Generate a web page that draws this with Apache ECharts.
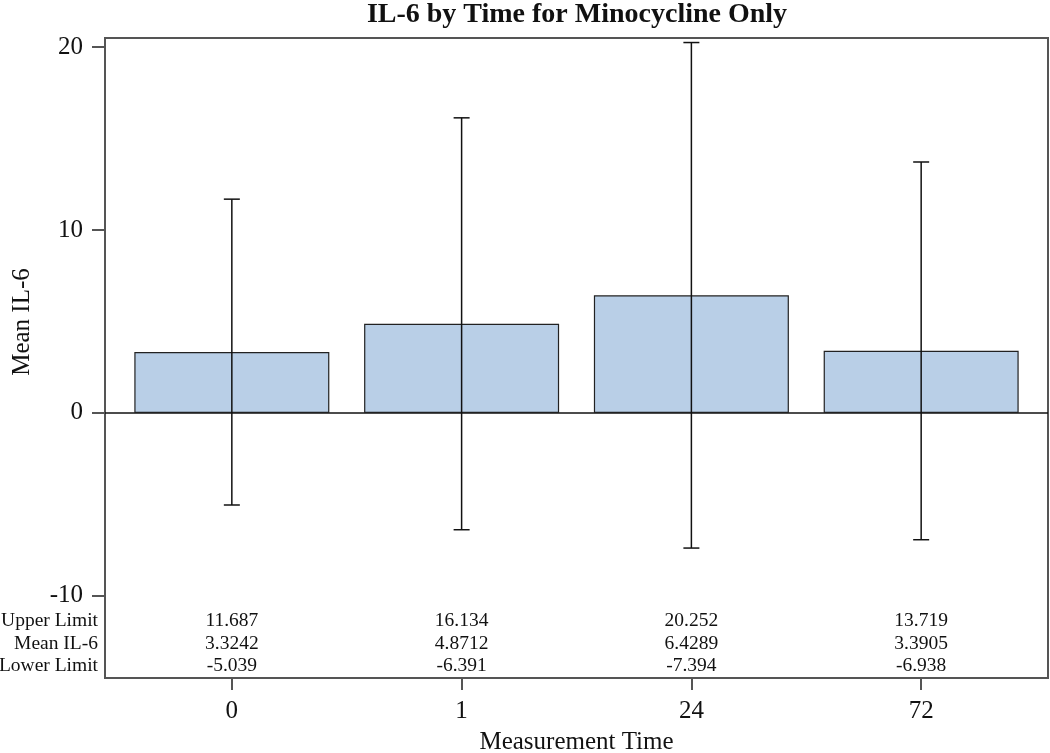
<!DOCTYPE html>
<html>
<head>
<meta charset="utf-8">
<script src="https://cdn.jsdelivr.net/npm/echarts@6/dist/echarts.min.js"></script>
<style>html,body{margin:0;padding:0;background:#fff;}#c{width:1050px;height:753px;}</style>
</head>
<body>
<div id="c"></div>
<script>
const categories = ['0', '1', '24', '72'];
const meanValues = [3.3242, 4.8712, 6.4289, 3.3905];
const upperLimits = [11.687, 16.134, 20.252, 13.719];
const lowerLimits = [-5.039, -6.391, -7.394, -6.938];
const yTicks = [-10, 0, 10, 20];
const tableRowLabels = ['Upper Limit', 'Mean IL-6', 'Lower Limit'];

const FONT = '"Liberation Serif", "Times New Roman", serif';
const X_MIN = -0.552, X_MAX = 3.552;
const ROW_Y = [-11.35, -12.62, -13.83];

const chart = echarts.init(document.getElementById('c'));
const idx = categories.map((c, i) => i);

chart.setOption({
  animation: false,
  backgroundColor: '#fff',
  grid: { left: 105, right: 2, top: 38, bottom: 75, outerBoundsMode: 'none', containLabel: false, show: true, borderColor: '#555', borderWidth: 2, backgroundColor: 'transparent' },
  graphic: [
    { type: 'text', x: 577, y: 15, style: { text: 'IL-6 by Time for Minocycline Only', font: 'bold 28px ' + FONT, fill: '#111', align: 'center', verticalAlign: 'middle' } },
    { type: 'text', x: 22, y: 322, rotation: Math.PI / 2, style: { text: 'Mean IL-6', font: '25px ' + FONT, fill: '#111', align: 'center', verticalAlign: 'middle' } }
  ],
  xAxis: {
    type: 'value', min: X_MIN, max: X_MAX,
    name: 'Measurement Time', nameLocation: 'middle', nameGap: 52,
    nameTextStyle: { fontFamily: FONT, fontSize: 25, color: '#111' },
    axisLine: { show: true, onZero: false, lineStyle: { color: '#555', width: 2 } },
    axisTick: { show: true, length: 12, customValues: idx, lineStyle: { color: '#555', width: 2 } },
    axisLabel: { customValues: idx, formatter: v => categories[Math.round(v)], fontFamily: FONT, fontSize: 25, color: '#111', margin: 21 },
    splitLine: { show: false }
  },
  yAxis: {
    type: 'value', min: -14.5, max: 20.5,
    axisLine: { show: true, onZero: false, lineStyle: { color: '#555', width: 2 } },
    axisTick: { show: true, length: 13, customValues: yTicks, lineStyle: { color: '#555', width: 2 } },
    axisLabel: { customValues: yTicks, fontFamily: FONT, fontSize: 25, color: '#111', margin: 22 },
    splitLine: { show: false }
  },
  series: [
    {
      type: 'bar',
      data: idx.map(i => [i, meanValues[i]]),
      barWidth: 195,
      itemStyle: { color: '#b9cfe7', borderColor: '#222', borderWidth: 1.2 },
      markLine: {
        silent: true, symbol: 'none', label: { show: false },
        lineStyle: { color: '#111', width: 1.5, type: 'solid' },
        data: [{ yAxis: 0 }]
      },
      z: 2
    },
    {
      type: 'custom',
      data: idx.map(i => [i, lowerLimits[i], upperLimits[i]]),
      renderItem: function (params, api) {
        const lo = api.coord([api.value(0), api.value(1)]);
        const hi = api.coord([api.value(0), api.value(2)]);
        const w = 8;
        const st = { stroke: '#111', lineWidth: 1.5 };
        return { type: 'group', children: [
          { type: 'line', shape: { x1: hi[0], y1: hi[1], x2: lo[0], y2: lo[1] }, style: st },
          { type: 'line', shape: { x1: hi[0] - w, y1: hi[1], x2: hi[0] + w, y2: hi[1] }, style: st },
          { type: 'line', shape: { x1: lo[0] - w, y1: lo[1], x2: lo[0] + w, y2: lo[1] }, style: st }
        ] };
      },
      z: 5
    },
    {
      type: 'custom',
      data: idx.map(i => [i, upperLimits[i], meanValues[i], lowerLimits[i]]),
      renderItem: function (params, api) {
        const i = api.value(0);
        const vals = [api.value(1), api.value(2), api.value(3)];
        return { type: 'group', children: vals.map((v, r) => {
          const p = api.coord([i, ROW_Y[r]]);
          return { type: 'text', x: p[0], y: p[1], style: { text: String(v), font: '19.5px ' + FONT, fill: '#111', align: 'center', verticalAlign: 'middle' } };
        }) };
      },
      z: 5
    },
    {
      type: 'custom',
      data: tableRowLabels.map((l, r) => [r]),
      renderItem: function (params, api) {
        const r = api.value(0);
        const p = api.coord([X_MIN, ROW_Y[r]]);
        return { type: 'text', x: p[0] - 7, y: p[1], style: { text: tableRowLabels[r], font: '19.5px ' + FONT, fill: '#111', align: 'right', verticalAlign: 'middle' } };
      },
      clip: false,
      z: 5
    }
  ]
});
</script>
</body>
</html>
